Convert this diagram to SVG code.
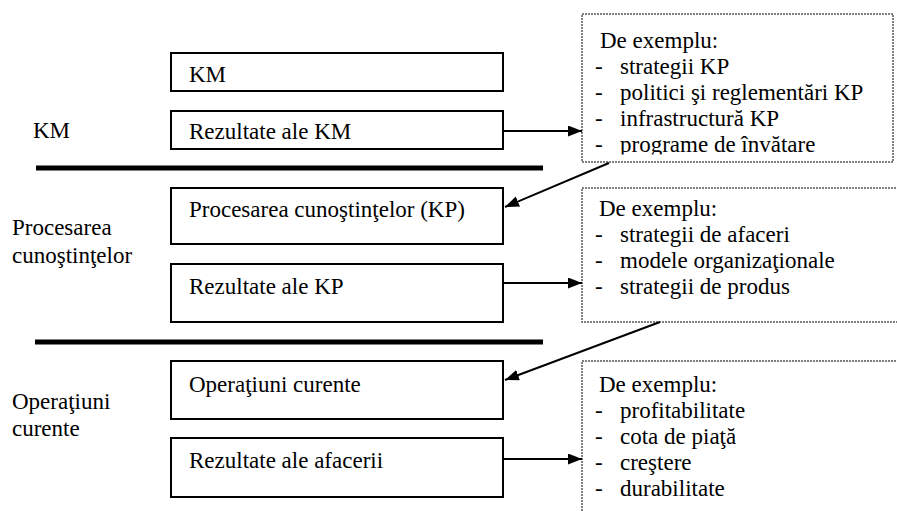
<svg xmlns="http://www.w3.org/2000/svg" width="897" height="511" viewBox="0 0 897 511">
<style>
  .t { font-family: "Liberation Serif", Tinos, "Times New Roman", "DejaVu Serif", serif; font-size: 23px; fill: #000; }
  .box { fill: #fff; stroke: #000; stroke-width: 2; }
  .note { fill: #fff; stroke: #555; stroke-width: 1.5; stroke-dasharray: 2 1; }
  .sep { stroke: #000; stroke-width: 5; }
  .conn { stroke: #000; stroke-width: 2; fill: none; marker-end: url(#ah); }
</style>
<defs>
  <marker id="ah" markerUnits="userSpaceOnUse" markerWidth="15" markerHeight="12" refX="14" refY="5.5" orient="auto">
    <path d="M0,0 L14,5.5 L0,11 z" fill="#000"/>
  </marker>
  <clipPath id="clip1"><rect x="583" y="15" width="310" height="139.5"/></clipPath>
</defs>
<rect width="897" height="511" fill="#fff"/>

<g id="layer-labels" class="t" font-family="Liberation Serif, serif">
  <text x="33" y="138">KM</text>
  <text x="12" y="235">Procesarea</text>
  <text x="12" y="263">cunoştinţelor</text>
  <text x="12" y="409">Operaţiuni</text>
  <text x="12" y="436">curente</text>
</g>

<g id="separators">
  <line class="sep" x1="36" y1="168" x2="543" y2="168"/>
  <line class="sep" x1="35" y1="342" x2="543" y2="342"/>
</g>

<g id="node-km" class="t">
  <rect class="box" x="171" y="53" width="332" height="38"/>
  <text x="189" y="82">KM</text>
</g>
<g id="node-rez-km" class="t">
  <rect class="box" x="171" y="111" width="332" height="38"/>
  <text x="189" y="139">Rezultate ale KM</text>
</g>
<g id="node-kp" class="t">
  <rect class="box" x="171" y="188" width="332" height="56"/>
  <text x="189" y="217">Procesarea cunoştinţelor (KP)</text>
</g>
<g id="node-rez-kp" class="t">
  <rect class="box" x="171" y="264" width="332" height="58"/>
  <text x="189" y="294">Rezultate ale KP</text>
</g>
<g id="node-op" class="t">
  <rect class="box" x="171" y="361" width="332" height="58"/>
  <text x="189" y="392">Operaţiuni curente</text>
</g>
<g id="node-rez-af" class="t">
  <rect class="box" x="171" y="438" width="332" height="59"/>
  <text x="189" y="468">Rezultate ale afacerii</text>
</g>

<g id="note-km" class="t">
  <rect class="note" x="582" y="14" width="311" height="148"/>
  <g clip-path="url(#clip1)">
    <text x="600" y="48">De exemplu:</text>
    <text y="74"><tspan x="595">-</tspan><tspan x="620">strategii KP</tspan></text>
    <text y="100"><tspan x="595">-</tspan><tspan x="620">politici şi reglementări KP</tspan></text>
    <text y="126"><tspan x="595">-</tspan><tspan x="620">infrastructură KP</tspan></text>
    <text y="152"><tspan x="595">-</tspan><tspan x="620">programe de învătare</tspan></text>
  </g>
</g>
<g id="note-kp" class="t">
  <rect class="note" x="582" y="188" width="340" height="134"/>
  <text x="599" y="216">De exemplu:</text>
  <text y="242"><tspan x="595">-</tspan><tspan x="620">strategii de afaceri</tspan></text>
  <text y="268"><tspan x="595">-</tspan><tspan x="620">modele organizaţionale</tspan></text>
  <text y="294"><tspan x="595">-</tspan><tspan x="620">strategii de produs</tspan></text>
</g>
<g id="note-af" class="t">
  <rect class="note" x="582" y="361" width="340" height="170"/>
  <text x="599" y="392">De exemplu:</text>
  <text y="418"><tspan x="595">-</tspan><tspan x="620">profitabilitate</tspan></text>
  <text y="444"><tspan x="595">-</tspan><tspan x="620">cota de piaţă</tspan></text>
  <text y="470"><tspan x="595">-</tspan><tspan x="620">creştere</tspan></text>
  <text y="496"><tspan x="595">-</tspan><tspan x="620">durabilitate</tspan></text>
</g>

<g id="connectors">
  <line class="conn" x1="503" y1="131" x2="582" y2="131"/>
  <line class="conn" x1="609" y1="163" x2="505" y2="207"/>
  <line class="conn" x1="503" y1="283" x2="582" y2="283"/>
  <line class="conn" x1="660" y1="322" x2="505" y2="380"/>
  <line class="conn" x1="503" y1="459" x2="582" y2="459"/>
</g>
</svg>
